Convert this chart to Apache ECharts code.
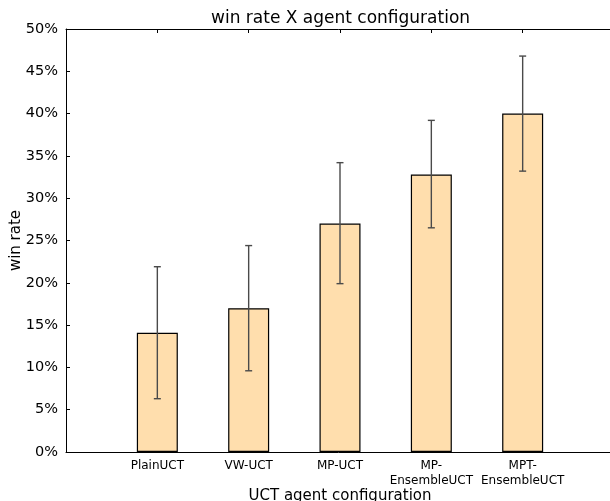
<!DOCTYPE html>
<html>
<head>
<meta charset="utf-8">
<script src="https://cdn.jsdelivr.net/npm/echarts@6/dist/echarts.min.js"></script>
<style>
  html, body { margin: 0; padding: 0; background: #fff; }
  #chart { width: 610px; height: 501px; }
</style>
</head>
<body>
<div id="chart"></div>
<script>
// agent configurations (x axis)
const categories = ['PlainUCT', 'VW-UCT', 'MP-UCT', 'MP-\nEnsembleUCT', 'MPT-\nEnsembleUCT'];
// win rate in %
const winRate = [14.1, 17.0, 27.0, 32.8, 40.0];
// error bar ends in %
const errLow = [6.3, 9.6, 19.9, 26.5, 33.2];
const errHigh = [21.9, 24.4, 34.2, 39.2, 46.8];
// y ticks
const yTicks = { min: 0, max: 50, step: 5 };

const font = 'DejaVu Sans';
const chart = echarts.init(document.getElementById('chart'));

const barData = winRate.map((v, i) => [i, v]);
const errData = errLow.map((lo, i) => [i, lo, errHigh[i]]);

const tickStyle = { show: true, inside: true, length: 4, lineStyle: { color: '#000', width: 1 } };
const lineStyle = { show: true, onZero: false, lineStyle: { color: '#000', width: 1 } };

const option = {
    animation: false,
    backgroundColor: '#fff',
    title: {
        text: 'win rate X agent configuration',
        left: 206,
        top: 5,
        textStyle: { fontFamily: font, fontSize: 17, fontWeight: 'normal', color: '#000' }
    },
    grid: { left: 66, right: -4, top: 29, bottom: 49, containLabel: false, outerBoundsMode: 'none' },
    xAxis: [{
        type: 'value',
        min: -1,
        max: 5,
        interval: 1,
        position: 'bottom',
        axisLine: lineStyle,
        axisTick: tickStyle,
        splitLine: { show: false },
        axisLabel: {
            fontFamily: font, fontSize: 12, color: '#000', margin: 6, lineHeight: 15,
            formatter: v => categories[v] || ''
        },
        name: 'UCT agent configuration',
        nameLocation: 'middle',
        nameGap: 37,
        nameMoveOverlap: false,
        nameTextStyle: { fontFamily: font, fontSize: 15, color: '#000' }
    }, {
        type: 'value',
        min: -1,
        max: 5,
        interval: 1,
        position: 'top',
        axisLine: lineStyle,
        axisTick: tickStyle,
        splitLine: { show: false },
        axisLabel: { show: false }
    }],
    yAxis: [{
        type: 'value',
        min: yTicks.min,
        max: yTicks.max,
        interval: yTicks.step,
        position: 'left',
        axisLine: lineStyle,
        axisTick: tickStyle,
        splitLine: { show: false },
        axisLabel: { fontFamily: font, fontSize: 14.5, color: '#000', margin: 8, formatter: '{value}%' },
        name: 'win rate',
        nameLocation: 'middle',
        nameGap: 42,
        nameMoveOverlap: false,
        nameTextStyle: { fontFamily: font, fontSize: 15, color: '#000' }
    }, {
        type: 'value',
        min: yTicks.min,
        max: yTicks.max,
        interval: yTicks.step,
        position: 'right',
        axisLine: lineStyle,
        axisTick: tickStyle,
        splitLine: { show: false },
        axisLabel: { show: false }
    }],
    series: [{
        type: 'bar',
        data: barData,
        barWidth: 41,
        itemStyle: { color: '#FFDEAD', borderColor: '#000', borderWidth: 1.2 }
    }, {
        type: 'custom',
        data: errData,
        z: 5,
        renderItem: function (params, api) {
            const x = api.value(0);
            const lo = api.coord([x, api.value(1)]);
            const hi = api.coord([x, api.value(2)]);
            const half = 3.5;
            const st = { stroke: '#4a4a4a', lineWidth: 1.4 };
            return {
                type: 'group',
                children: [
                    { type: 'line', shape: { x1: lo[0], y1: lo[1], x2: hi[0], y2: hi[1] }, style: st },
                    { type: 'line', shape: { x1: lo[0] - half, y1: lo[1], x2: lo[0] + half, y2: lo[1] }, style: st },
                    { type: 'line', shape: { x1: hi[0] - half, y1: hi[1], x2: hi[0] + half, y2: hi[1] }, style: st }
                ]
            };
        }
    }]
};

chart.setOption(option);
</script>
</body>
</html>
